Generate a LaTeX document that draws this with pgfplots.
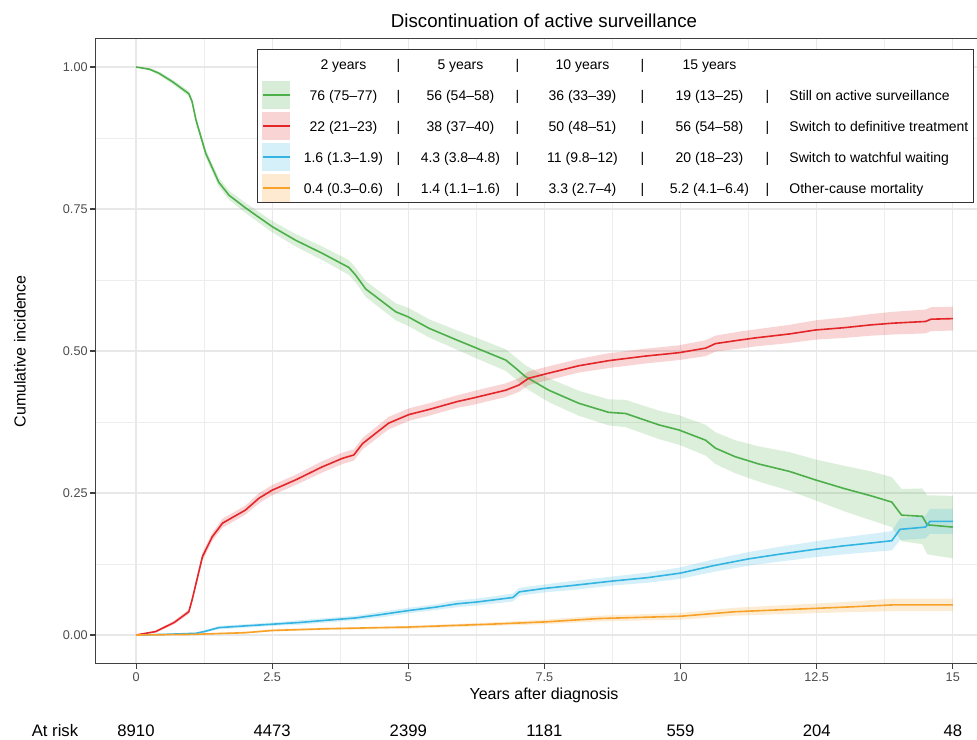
\documentclass[border=0pt]{standalone}
\usepackage{fontspec}
\setmainfont{Liberation Sans}
\usepackage{pgfplots}
\pgfplotsset{compat=1.18}
\usepackage{pgfplotstable}

\definecolor{cgreen}{HTML}{4DAF4A}
\definecolor{cred}{HTML}{E3262A}
\definecolor{cblue}{HTML}{34B4E0}
\definecolor{corange}{HTML}{F7A128}

% curve values: t, estimate
\pgfplotstableread{
t y
0 1.000
0.25 0.996
0.42 0.989
0.67 0.974
0.97 0.953
1.03 0.939
1.10 0.907
1.28 0.848
1.52 0.797
1.71 0.774
2.01 0.752
2.50 0.719
2.93 0.695
3.42 0.672
3.91 0.647
4.03 0.634
4.22 0.609
4.77 0.569
5.00 0.560
5.38 0.540
5.90 0.519
6.18 0.508
6.79 0.484
6.97 0.470
7.15 0.455
7.58 0.431
8.13 0.408
8.68 0.392
8.99 0.390
9.60 0.370
9.97 0.361
10.46 0.343
10.64 0.329
11.00 0.314
11.44 0.301
12.00 0.288
12.48 0.273
13.00 0.258
13.50 0.245
13.88 0.234
14.06 0.211
14.44 0.209
14.53 0.194
15.00 0.190
}\greentab

% confidence band polygon: upper limit forward, lower limit backward
\pgfplotstableread{
t v
0 1.000
0.25 0.998
0.42 0.992
0.67 0.978
0.97 0.958
1.03 0.944
1.10 0.913
1.28 0.855
1.52 0.805
1.71 0.782
2.01 0.761
2.50 0.729
2.93 0.706
3.42 0.684
3.91 0.660
4.03 0.647
4.22 0.623
4.77 0.584
5.00 0.576
5.38 0.556
5.90 0.536
6.18 0.526
6.79 0.503
6.97 0.489
7.15 0.475
7.58 0.452
8.13 0.430
8.68 0.415
8.99 0.414
9.60 0.395
9.97 0.387
10.46 0.370
10.64 0.357
11.00 0.343
11.44 0.332
12.00 0.322
12.48 0.309
13.00 0.298
13.50 0.288
13.88 0.278
14.06 0.257
14.44 0.258
14.53 0.246
15.00 0.245
15.00 0.135
14.53 0.142
14.44 0.160
14.06 0.165
13.88 0.190
13.50 0.202
13.00 0.218
12.48 0.237
12.00 0.254
11.44 0.270
11.00 0.285
10.64 0.301
10.46 0.316
9.97 0.335
9.60 0.345
8.99 0.366
8.68 0.369
8.13 0.386
7.58 0.410
7.15 0.435
6.97 0.451
6.79 0.465
6.18 0.490
5.90 0.502
5.38 0.524
5.00 0.544
4.77 0.554
4.22 0.595
4.03 0.621
3.91 0.634
3.42 0.660
2.93 0.684
2.50 0.709
2.01 0.743
1.71 0.766
1.52 0.789
1.28 0.841
1.10 0.901
1.03 0.934
0.97 0.948
0.67 0.970
0.42 0.986
0.25 0.994
0 1.000
}\greenband

\pgfplotstableread{
t y
0 0
0.36 0.006
0.70 0.022
0.97 0.041
1.03 0.062
1.22 0.138
1.40 0.173
1.59 0.197
2.01 0.220
2.26 0.241
2.50 0.255
2.93 0.273
3.42 0.296
3.79 0.311
4.00 0.317
4.16 0.337
4.64 0.373
5.01 0.388
5.38 0.397
5.90 0.411
6.18 0.417
6.79 0.431
7.03 0.440
7.21 0.452
7.58 0.461
8.13 0.474
8.68 0.483
9.35 0.491
9.97 0.497
10.46 0.505
10.64 0.513
11.07 0.519
11.37 0.523
12.00 0.530
12.48 0.537
13.00 0.541
13.50 0.546
13.90 0.549
14.50 0.552
14.60 0.556
15.00 0.557
}\redtab

\pgfplotstableread{
t v
0 0
0.36 0.008
0.70 0.025
0.97 0.045
1.03 0.067
1.22 0.145
1.40 0.180
1.59 0.205
2.01 0.228
2.26 0.250
2.50 0.264
2.93 0.282
3.42 0.306
3.79 0.321
4.00 0.327
4.16 0.347
4.64 0.384
5.01 0.399
5.38 0.408
5.90 0.422
6.18 0.429
6.79 0.443
7.03 0.452
7.21 0.464
7.58 0.473
8.13 0.486
8.68 0.496
9.35 0.504
9.97 0.510
10.46 0.519
10.64 0.527
11.07 0.534
11.37 0.538
12.00 0.546
12.48 0.554
13.00 0.559
13.50 0.565
13.90 0.569
14.50 0.573
14.60 0.577
15.00 0.578
15.00 0.536
14.60 0.535
14.50 0.531
13.90 0.529
13.50 0.527
13.00 0.523
12.48 0.520
12.00 0.514
11.37 0.508
11.07 0.504
10.64 0.499
10.46 0.491
9.97 0.484
9.35 0.478
8.68 0.470
8.13 0.462
7.58 0.449
7.21 0.440
7.03 0.428
6.79 0.419
6.18 0.405
5.90 0.400
5.38 0.386
5.01 0.377
4.64 0.362
4.16 0.327
4.00 0.307
3.79 0.301
3.42 0.286
2.93 0.264
2.50 0.246
2.26 0.232
2.01 0.212
1.59 0.189
1.40 0.166
1.22 0.131
1.03 0.057
0.97 0.037
0.70 0.019
0.36 0.004
0 0
}\redband

\pgfplotstableread{
t y
0 0
0.50 0.001
1.10 0.003
1.25 0.006
1.52 0.013
2.00 0.016
2.50 0.019
3.00 0.022
3.50 0.026
4.03 0.030
4.50 0.036
5.00 0.043
5.50 0.049
5.90 0.055
6.25 0.058
6.92 0.066
7.04 0.076
7.50 0.082
8.00 0.087
8.75 0.095
9.40 0.101
10.00 0.109
10.60 0.122
11.25 0.134
11.80 0.142
12.48 0.151
13.00 0.157
13.50 0.162
13.88 0.166
14.03 0.186
14.50 0.190
14.58 0.200
15.00 0.200
}\bluetab

\pgfplotstableread{
t v
0 0
0.50 0.002
1.10 0.004
1.25 0.008
1.52 0.016
2.00 0.019
2.50 0.022
3.00 0.026
3.50 0.030
4.03 0.034
4.50 0.041
5.00 0.048
5.50 0.054
5.90 0.061
6.25 0.064
6.92 0.073
7.04 0.083
7.50 0.089
8.00 0.095
8.75 0.103
9.40 0.110
10.00 0.119
10.60 0.133
11.25 0.146
11.80 0.155
12.48 0.165
13.00 0.172
13.50 0.178
13.88 0.183
14.03 0.205
14.50 0.210
14.58 0.222
15.00 0.222
15.00 0.178
14.58 0.178
14.50 0.170
14.03 0.167
13.88 0.149
13.50 0.146
13.00 0.142
12.48 0.137
11.80 0.129
11.25 0.122
10.60 0.111
10.00 0.099
9.40 0.092
8.75 0.087
8.00 0.079
7.50 0.075
7.04 0.069
6.92 0.059
6.25 0.052
5.90 0.049
5.50 0.044
5.00 0.038
4.50 0.031
4.03 0.026
3.50 0.022
3.00 0.018
2.50 0.016
2.00 0.013
1.52 0.010
1.25 0.004
1.10 0.002
0.50 0.000
0 0
}\blueband

\pgfplotstableread{
t y
0 0
1.00 0.001
2.00 0.004
2.50 0.008
3.50 0.011
5.00 0.014
6.50 0.019
7.50 0.023
8.50 0.029
10.00 0.033
11.00 0.041
12.00 0.045
13.00 0.049
13.90 0.053
15.00 0.053
}\orangetab

\pgfplotstableread{
t v
0 0
1.00 0.002
2.00 0.006
2.50 0.010
3.50 0.013
5.00 0.016
6.50 0.022
7.50 0.027
8.50 0.034
10.00 0.039
11.00 0.048
12.00 0.053
13.00 0.058
13.90 0.064
15.00 0.064
15.00 0.042
13.90 0.042
13.00 0.040
12.00 0.037
11.00 0.034
10.00 0.027
8.50 0.024
7.50 0.019
6.50 0.016
5.00 0.011
3.50 0.009
2.50 0.006
2.00 0.003
1.00 0.000
0 0
}\orangeband

\newcommand{\cc}[2]{\makebox[0pt][l]{\hspace*{#1}\makebox[0pt][c]{#2}}}
\newcommand{\lrow}[5]{\cc{39.75pt}{#1}\cc{81pt}{|}\cc{127.5pt}{#2}\cc{170.25pt}{|}\cc{219pt}{#3}\cc{264pt}{|}\cc{314.25pt}{#4}\cc{357.75pt}{|}\hspace*{374.25pt}#5}

\begin{document}
\begin{tikzpicture}
\begin{axis}[
  at={(71.4pt,56.7pt)}, anchor=south west, scale only axis,
  width=673.8pt, height=468.6pt,
  xmin=-0.75, xmax=15.75, ymin=-0.05, ymax=1.05,
  xtick={0,2.5,5,7.5,10,12.5,15}, xticklabels={0,2.5,5,7.5,10,12.5,15},
  ytick={0,0.25,0.5,0.75,1}, yticklabels={0.00,0.25,0.50,0.75,1.00},
  minor xtick={1.25,3.75,6.25,8.75,11.25,13.75},
  minor ytick={0.125,0.375,0.625,0.875},
  grid=both,
  major grid style={draw=black!9, line width=0.9pt},
  minor grid style={draw=black!7, line width=0.5pt},
  tick align=outside, tick pos=left,
  major tick length=4pt, minor tick length=0pt,
  every tick/.style={draw=black!75, line width=0.8pt},
  axis line style={draw=black!75, line width=0.8pt},
  ticklabel style={font=\fontsize{9.5}{11}\selectfont, text=black!70},
  xticklabel style={inner sep=2.5pt},
  yticklabel style={inner sep=1.5pt},
  /pgf/number format/assume math mode=true,
  legend cell align=left,
  legend style={at={(0.1801,0.9833)}, anchor=north west,
    draw=black!80, line width=0.7pt, fill=white,
    inner xsep=3.75pt, inner ysep=0.5pt,
    /tikz/row sep=2.25pt, /tikz/column sep=0pt,
    font=\fontsize{10.5}{12}\selectfont,
    nodes={inner sep=0pt, text height=7.5pt, text depth=0pt, minimum height=21pt}},
]
\addlegendimage{legend image code/.code={\path[draw=none, fill=none] (0pt,-10.5pt) rectangle (21pt,10.5pt);}}
\addlegendentry{\cc{39.75pt}{2 years}\cc{81pt}{|}\cc{127.5pt}{5 years}\cc{170.25pt}{|}\cc{219pt}{10 years}\cc{264pt}{|}\cc{314.25pt}{15 years}\hspace*{374.25pt}}
\addlegendimage{legend image code/.code={\fill[draw=none, cgreen!22] (0pt,-10.5pt) rectangle (21pt,10.5pt); \draw[cgreen, line width=1pt] (0.5pt,0pt) -- (20.5pt,0pt);}}
\addlegendentry{\lrow{76 (75--77)}{56 (54--58)}{36 (33--39)}{19 (13--25)}{Still on active surveillance}}
\addlegendimage{legend image code/.code={\fill[draw=none, cred!20] (0pt,-10.5pt) rectangle (21pt,10.5pt); \draw[cred, line width=1pt] (0.5pt,0pt) -- (20.5pt,0pt);}}
\addlegendentry{\lrow{22 (21--23)}{38 (37--40)}{50 (48--51)}{56 (54--58)}{Switch to definitive treatment}}
\addlegendimage{legend image code/.code={\fill[draw=none, cblue!20] (0pt,-10.5pt) rectangle (21pt,10.5pt); \draw[cblue, line width=1pt] (0.5pt,0pt) -- (20.5pt,0pt);}}
\addlegendentry{\lrow{1.6 (1.3--1.9)}{4.3 (3.8--4.8)}{11 (9.8--12)}{20 (18--23)}{Switch to watchful waiting}}
\addlegendimage{legend image code/.code={\fill[draw=none, corange!22] (0pt,-10.5pt) rectangle (21pt,10.5pt); \draw[corange, line width=1pt] (0.5pt,0pt) -- (20.5pt,0pt);}}
\addlegendentry{\lrow{0.4 (0.3--0.6)}{1.4 (1.1--1.6)}{3.3 (2.7--4)}{5.2 (4.1--6.4)}{Other-cause mortality}}

% confidence bands
\addplot[fill=cgreen, fill opacity=0.2, draw=none, forget plot] table[x=t,y=v]{\greenband};
\addplot[fill=cred, fill opacity=0.2, draw=none, forget plot] table[x=t,y=v]{\redband};
\addplot[fill=cblue, fill opacity=0.2, draw=none, forget plot] table[x=t,y=v]{\blueband};
\addplot[fill=corange, fill opacity=0.2, draw=none, forget plot] table[x=t,y=v]{\orangeband};

% estimates
\addplot[cgreen, line width=1.2pt, forget plot] table[x=t,y=y]{\greentab};
\addplot[cred, line width=1.2pt, forget plot] table[x=t,y=y]{\redtab};
\addplot[cblue, line width=1.2pt, forget plot] table[x=t,y=y]{\bluetab};
\addplot[corange, line width=1.2pt, forget plot] table[x=t,y=y]{\orangetab};
\end{axis}
\node[anchor=base, font=\fontsize{14}{16}\selectfont, inner sep=0pt] at (408pt,533.8pt) {Discontinuation of active surveillance};
\node[anchor=base, font=\fontsize{12}{14}\selectfont, inner sep=0pt] at (408pt,30pt) {Years after diagnosis};
\node[rotate=90, font=\fontsize{12}{14}\selectfont, inner sep=0pt] at (15pt,290.8pt) {Cumulative incidence};
\begin{scope}[every node/.style={anchor=base, font=\fontsize{12.5}{14}\selectfont, inner sep=0pt}]
\node at (41.25pt,2.25pt) {At risk};
\node at (102pt,2.25pt) {8910};
\node at (204.1pt,2.25pt) {4473};
\node at (306.2pt,2.25pt) {2399};
\node at (408.3pt,2.25pt) {1181};
\node at (510.4pt,2.25pt) {559};
\node at (612.5pt,2.25pt) {204};
\node at (714.6pt,2.25pt) {48};
\end{scope}
\pgfresetboundingbox
\path[use as bounding box] (0,0) rectangle (732.75pt,554.25pt);
\end{tikzpicture}
\end{document}
